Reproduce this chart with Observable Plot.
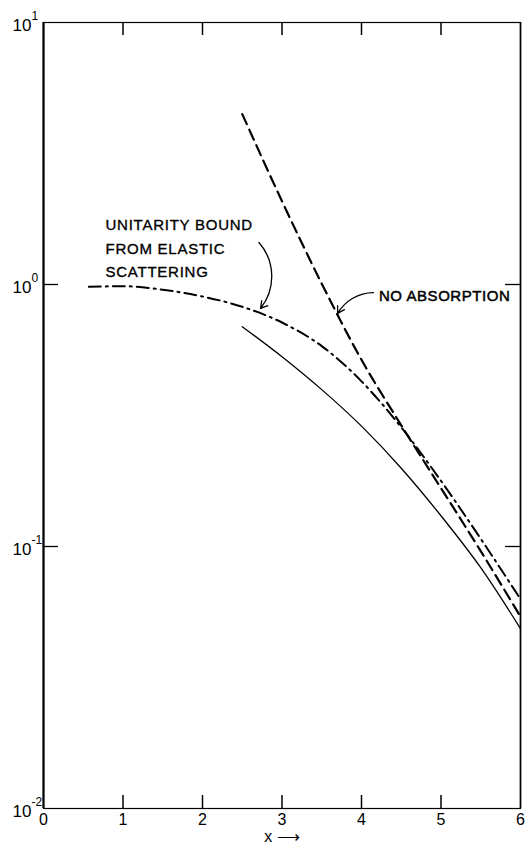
<!DOCTYPE html>
<html>
<head>
<meta charset="utf-8">
<script src="https://cdn.jsdelivr.net/npm/d3@7"></script>
<script src="https://cdn.jsdelivr.net/npm/@observablehq/plot@0.6"></script>
<style>
  html, body { margin: 0; padding: 0; background: white; }
</style>
</head>
<body>
<div id="chart"></div>
<script>
// ---- data ----
const xTickValues = [0, 1, 2, 3, 4, 5, 6];
const innerXTicks = [1, 2, 3, 4, 5];
const yTickValues = [10, 1, 0.1, 0.01];
const yTickBase = ["10", "10", "10", "10"];
const yTickExponents = ["1", "0", "-1", "-2"];
const sideYTicks = [1, 0.1];

// no absorption (dashed)
const noAbsX = [2.5, 3.0, 3.5, 4.0, 4.5, 5.0, 5.5, 6.0];
const noAbsY = [4.47, 2.08, 1.007, 0.516, 0.29, 0.167, 0.096, 0.054];

// unitarity bound from elastic scattering (dash-dot)
const unitX = [0.57, 1.0, 1.5, 2.0, 2.5, 3.0, 3.5, 4.0, 4.5, 5.0, 5.5, 6.0];
const unitY = [0.98, 0.985, 0.955, 0.9, 0.822, 0.716, 0.582, 0.427, 0.285, 0.178, 0.107, 0.063];

// solid curve
const solidX = [2.5, 3.0, 3.5, 4.0, 4.5, 5.0, 5.5, 6.0];
const solidY = [0.69, 0.53, 0.397, 0.288, 0.199, 0.131, 0.083, 0.0486];

// annotations (data coordinates)
const unitLabel = {x: 0.78, y: 1.86, text: "UNITARITY BOUND\nFROM ELASTIC\nSCATTERING"};
const noAbsLabel = {x: 4.22, y: 0.948, text: "NO ABSORPTION"};
const unitArrow = [{x1: 2.71, y1: 1.446, x2: 2.73, y2: 0.81}];
const noAbsArrow = [{x1: 4.15, y1: 0.931, x2: 3.70, y2: 0.775}];

const toRows = (xs, ys) => xs.map((x, i) => ({x, y: ys[i]}));
const noAbs = toRows(noAbsX, noAbsY);
const unit = toRows(unitX, unitY);
const solid = toRows(solidX, solidY);
const yTicks = yTickValues.map((y, i) => ({y, base: yTickBase[i], exp: yTickExponents[i]}));

const W = 528, H = 844, mL = 43, mR = 8, mT = 22, mB = 36;
const innerW = W - mL - mR, innerH = H - mT - mB;

const chart = Plot.plot({
  width: W,
  height: H,
  marginLeft: mL,
  marginRight: mR,
  marginTop: mT,
  marginBottom: mB,
  style: {fontFamily: "Liberation Sans, Arial, sans-serif", fontSize: "15px", background: "white", color: "black", overflow: "visible"},
  x: {domain: [0, 6]},
  y: {type: "log", domain: [0.01, 10], axis: null},
  marks: [
    Plot.frame({stroke: "black", strokeWidth: 1.2}),
    Plot.ruleX([0], {stroke: "black", strokeWidth: 2.2}),
    Plot.ruleX([6], {stroke: "black", strokeWidth: 1.6}),
    // inward ticks
    Plot.ruleX(innerXTicks, {insetTop: innerH - 13, strokeWidth: 1.5}),
    Plot.ruleX(innerXTicks, {insetBottom: innerH - 13, strokeWidth: 1.5}),
    Plot.ruleY(sideYTicks, {insetLeft: innerW - 15, strokeWidth: 1.3}),
    Plot.ruleY(sideYTicks, {insetRight: innerW - 15, strokeWidth: 1.3}),
    Plot.axisX({ticks: xTickValues, tickSize: 0, tickPadding: 5, fontSize: 16,
      tickFormat: d => String(d), stroke: "black", strokeWidth: 0.3,
      label: "x ⟶", labelAnchor: "center", labelOffset: 33, labelArrow: "none"}),
    // y tick labels as 10 + superscript exponent
    Plot.text(yTicks, {y: "y", text: "base", frameAnchor: "left", dx: -12, dy: 3,
      textAnchor: "end", fontSize: 17, fill: "black"}),
    Plot.text(yTicks, {y: "y", text: "exp", frameAnchor: "left", dx: -12, dy: -6,
      textAnchor: "start", fontSize: 12, fill: "black"}),
    // curves
    Plot.line(noAbs, {x: "x", y: "y", curve: "monotone-x", stroke: "black", strokeWidth: 2.2, strokeDasharray: "11,6"}),
    Plot.line(unit, {x: "x", y: "y", curve: "monotone-x", stroke: "black", strokeWidth: 2, strokeDasharray: "12,5,2,5"}),
    Plot.line(solid, {x: "x", y: "y", curve: "monotone-x", stroke: "black", strokeWidth: 1.3}),
    // labels
    Plot.text([unitLabel], {x: "x", y: "y", text: "text", textAnchor: "start", lineAnchor: "top",
      lineHeight: 1.55, fontSize: 15, fill: "black", stroke: "black", strokeWidth: 0.35}),
    Plot.text([noAbsLabel], {x: "x", y: "y", text: "text", textAnchor: "start", lineAnchor: "top",
      fontSize: 15, fill: "black", stroke: "black", strokeWidth: 0.5}),
    Plot.arrow(unitArrow, {x1: "x1", y1: "y1", x2: "x2", y2: "y2", bend: 40, stroke: "black",
      strokeWidth: 1.3, headLength: 9}),
    Plot.arrow(noAbsArrow, {x1: "x1", y1: "y1", x2: "x2", y2: "y2", bend: -30, stroke: "black",
      strokeWidth: 1.3, headLength: 9})
  ]
});
// letter spacing for the lettered annotations
d3.select(chart).selectAll("text").each(function () {
  const t = this.textContent;
  if (/UNITARITY|FROM ELASTIC|SCATTERING/.test(t)) this.style.letterSpacing = "0.75px";
  if (/NO ABSORPTION/.test(t)) this.style.letterSpacing = "0.55px";
});
document.getElementById("chart").appendChild(chart);
</script>
</body>
</html>
